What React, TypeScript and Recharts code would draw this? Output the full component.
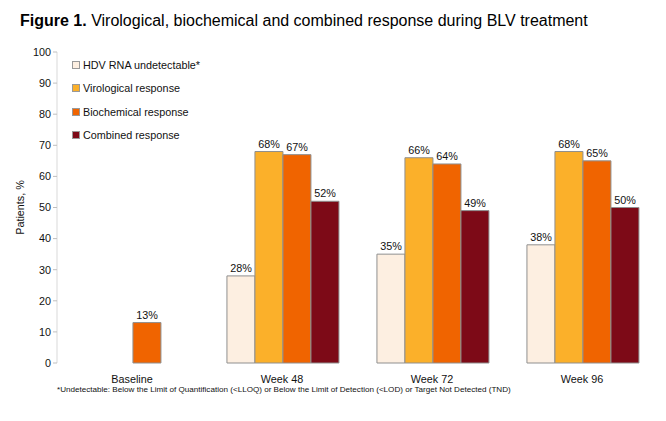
import React from 'react';
import { BarChart, Bar, XAxis, YAxis, LabelList } from 'recharts';

const categories = ['Baseline', 'Week 48', 'Week 72', 'Week 96'];
const hdvUndetectable = [null, 28, 35, 38];
const virological = [null, 68, 66, 68];
const biochemical = [13, 67, 64, 65];
const combined = [null, 52, 49, 50];
const yTicks = [0, 10, 20, 30, 40, 50, 60, 70, 80, 90, 100];
const boundaryTicks = [0, 1, 2, 3, 4];

const seriesDefs = [
  { key: 'hdv', name: 'HDV RNA undetectable*', color: '#FDEFE1' },
  { key: 'vir', name: 'Virological response', color: '#FBB02A' },
  { key: 'bio', name: 'Biochemical response', color: '#F06400' },
  { key: 'comb', name: 'Combined response', color: '#7D0A17' },
];

const data = categories.map((c, i) => ({
  cat: c,
  hdv: hdvUndetectable[i],
  vir: virological[i],
  bio: biochemical[i],
  comb: combined[i],
}));

const font = 'Arial, "Liberation Sans", Helvetica, sans-serif';
const fs = 10.8;

const fmt = (v: any) => (v == null ? '' : `${v}%`);

export default function App() {
  return (
    <div style={{ position: 'relative', width: 666, height: 421, background: '#fff', fontFamily: font }}>
      <style>{'body{margin:0}'}</style>
      <div style={{ position: 'absolute', left: 20, top: 12, fontSize: 16, color: '#000', whiteSpace: 'nowrap' }}>
        <b>Figure 1.</b> Virological, biochemical and combined response during BLV treatment
      </div>
      <div style={{ position: 'absolute', left: 0, top: 0 }}>
        <BarChart width={666} height={421} data={data} margin={{ top: 52, right: 9, bottom: 38, left: 17 }} barCategoryGap="13.3%" barGap={0}>
          <XAxis xAxisId="grid" type="number" domain={[0, 4]} ticks={boundaryTicks} height={0} tickFormatter={() => ''} tickLine={{ stroke: '#bfbfbf' }} tickSize={5} axisLine={{ stroke: '#d9d9d9' }} />
          <XAxis dataKey="cat" height={20} axisLine={false} tickLine={false} tick={{ fontSize: fs, fill: '#111', fontFamily: font }} tickMargin={6} />
          <YAxis domain={[0, 100]} ticks={yTicks} width={40} axisLine={{ stroke: '#d9d9d9' }} tickLine={{ stroke: '#bfbfbf' }} tickSize={4} tick={{ fontSize: fs, fill: '#111', fontFamily: font }}
            label={{ value: 'Patients, %', angle: -90, position: 'insideLeft', offset: 3, style: { fontSize: fs, fill: '#111', fontFamily: font, textAnchor: 'middle' } }} />
          {seriesDefs.map((s) => (
            <Bar key={s.key} dataKey={s.key} name={s.name} fill={s.color} stroke="#8f8f8f" strokeWidth={1} isAnimationActive={false}>
              <LabelList dataKey={s.key} position="top" offset={4} formatter={fmt} style={{ fontSize: fs, fill: '#111', fontFamily: font }} />
            </Bar>
          ))}
        </BarChart>
      </div>
      <div style={{ position: 'absolute', left: 72, top: 53, fontSize: fs, color: '#111' }}>
        {seriesDefs.map((s) => (
          <div key={s.key} style={{ display: 'flex', alignItems: 'center', height: 23.5 }}>
            <span style={{ display: 'inline-block', width: 6, height: 6, background: s.color, border: '1px solid #999', marginRight: 3 }} />
            {s.name}
          </div>
        ))}
      </div>
      <div style={{ position: 'absolute', left: 57, top: 385, fontSize: 8.1, color: '#111', whiteSpace: 'nowrap' }}>
        *Undetectable: Below the Limit of Quantification (&lt;LLOQ) or Below the Limit of Detection (&lt;LOD) or Target Not Detected (TND)
      </div>
    </div>
  );
}
